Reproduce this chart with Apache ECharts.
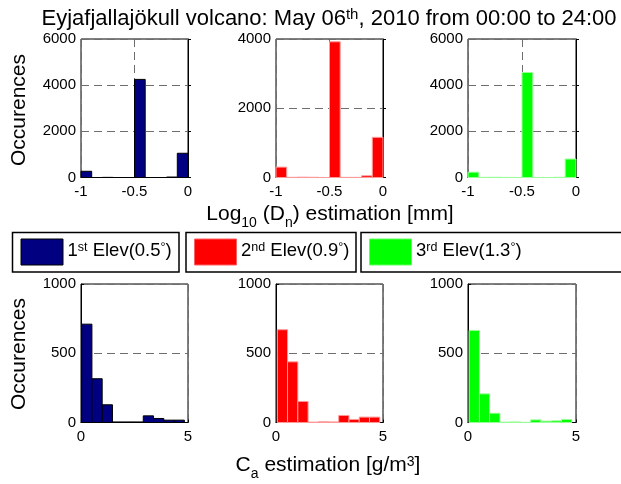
<!DOCTYPE html>
<html>
<head>
<meta charset="utf-8">
<script src="https://cdn.jsdelivr.net/npm/echarts@6/dist/echarts.min.js"></script>
<style>
    html, body { margin: 0; padding: 0; background: #fff; }
    #main { width: 621px; height: 484px; }
</style>
</head>
<body>
<div id="main"></div>
<script type="text/javascript">
// histogram bin edges and counts
var dnEdges = [-1, -0.9, -0.8, -0.7, -0.6, -0.5, -0.4, -0.3, -0.2, -0.1, 0];
var dnElev1 = [270, 0, 6, 0, 0, 4250, 0, 0, 20, 1050];
var dnElev2 = [300, 5, 10, 6, 0, 3920, 4, 3, 50, 1160];
var dnElev3 = [230, 6, 10, 4, 0, 4550, 0, 0, 10, 800];

var caEdges1 = [0.03, 0.51, 0.99, 1.47, 1.95, 2.43, 2.91, 3.39, 3.87, 4.35, 4.83];
var caEdges2 = [0.06, 0.54, 1.02, 1.50, 1.98, 2.46, 2.93, 3.41, 3.89, 4.37, 4.85];
var caEdges3 = [0.05, 0.53, 1.00, 1.48, 1.95, 2.43, 2.90, 3.38, 3.85, 4.33, 4.80];
var caElev1 = [710, 316, 128, 4, 4, 4, 48, 29, 17, 17];
var caElev2 = [670, 438, 152, 3, 5, 4, 51, 22, 39, 39];
var caElev3 = [665, 207, 67, 3, 4, 1, 19, 10, 12, 22];

var dnTicksMax = [6000, 4000, 6000];
var caTicksMax = [1000, 1000, 1000];

var colors = ['#000080', '#ff0000', '#00ff00'];
var edgeColors = ['#000000', '#ff9a9a', '#9aff9a'];
var font = 'Liberation Sans, Arial, Helvetica, sans-serif';

var myChart = echarts.init(document.getElementById('main'), null, {renderer: 'canvas'});

var lefts = [81, 276, 468];
var widths = [107, 107, 108];
var tops = [39, 284];
var plotH = 138.5;

function bins(edges, counts) {
    return counts.map(function (c, i) { return [edges[i], edges[i + 1], c]; });
}

function histItem(params, api) {
    var p0 = api.coord([api.value(0), api.value(2)]);
    var p1 = api.coord([api.value(1), 0]);
    var c = colors[params.seriesIndex % 3];
    return {
        type: 'rect',
        shape: {x: p0[0], y: p0[1], width: p1[0] - p0[0], height: p1[1] - p0[1]},
        style: {fill: c, stroke: edgeColors[params.seriesIndex % 3], lineWidth: 1}
    };
}

function plainNum(v) { return String(v); }

var grids = [], xAxes = [], yAxes = [], series = [];
var dnData = [dnElev1, dnElev2, dnElev3];
var caData = [caElev1, caElev2, caElev3];
var caEdges = [caEdges1, caEdges2, caEdges3];

var splitStyle = {show: true, lineStyle: {color: '#6e6e6e', type: [8, 5], width: 1}};
var labelStyle = {color: '#000', fontSize: 15, fontFamily: font, formatter: plainNum};

for (var row = 0; row < 2; row++) {
    for (var k = 0; k < 3; k++) {
        var idx = row * 3 + k;
        grids.push({left: lefts[k], top: tops[row], width: widths[k], height: plotH,
            show: true, borderColor: '#000', borderWidth: 1, backgroundColor: '#fff'});
        xAxes.push({
            type: 'value', gridIndex: idx,
            min: row == 0 ? -1 : 0, max: row == 0 ? 0 : 5, interval: row == 0 ? 0.5 : 5,
            axisLine: {show: true, lineStyle: {color: '#000'}},
            axisTick: {show: true, inside: true, length: 3, lineStyle: {color: '#000'}},
            axisLabel: Object.assign({margin: 7}, labelStyle),
            splitLine: splitStyle
        });
        yAxes.push({
            type: 'value', gridIndex: idx,
            min: 0, max: row == 0 ? dnTicksMax[k] : caTicksMax[k], interval: row == 0 ? 2000 : 500,
            axisLine: {show: true, lineStyle: {color: '#000'}},
            axisTick: {show: true, inside: true, length: 3, lineStyle: {color: '#000'}},
            axisLabel: Object.assign({margin: 5}, labelStyle),
            splitLine: splitStyle
        });
        series.push({
            type: 'custom', xAxisIndex: idx, yAxisIndex: idx,
            renderItem: histItem,
            encode: {x: [0, 1], y: 2},
            data: row == 0 ? bins(dnEdges, dnData[k]) : bins(caEdges[k], caData[k])
        });
    }
}

var base = {fontSize: 21, fontFamily: font, color: '#000', lineHeight: 24, verticalAlign: 'top'};
var sup = {fontSize: 14, fontFamily: font, color: '#000', lineHeight: 14, verticalAlign: 'top'};
var sub = {fontSize: 14, fontFamily: font, color: '#000', lineHeight: 14, verticalAlign: 'top', padding: [12, 0, 0, 0]};
var tbase = {fontSize: 22, fontFamily: font, color: '#000', lineHeight: 25, verticalAlign: 'top'};
var tsup = {fontSize: 15, fontFamily: font, color: '#000', lineHeight: 14, verticalAlign: 'top'};
var lbase = {fontSize: 18.5, fontFamily: font, color: '#000', lineHeight: 22, verticalAlign: 'top'};
var lsup = {fontSize: 12.5, fontFamily: font, color: '#000', lineHeight: 12, verticalAlign: 'top'};

function legendBox(x, w, color, edge, head, supText, tail) {
    return [
        {type: 'rect', shape: {x: x, y: 232.5, width: w, height: 39.5},
            style: {fill: '#fff', stroke: '#000', lineWidth: 1.5}},
        {type: 'rect', shape: {x: x + 8.5, y: 239, width: 42, height: 26},
            style: {fill: color, stroke: edge, lineWidth: 1}},
        {type: 'text', x: x + 55, y: 252, style: {
            text: '{b|' + head + '}{s|' + supText + '}{b| ' + tail + '}{s|°}{b|)}',
            rich: {b: lbase, s: lsup}, textAlign: 'left', textVerticalAlign: 'middle'}}
    ];
}

var graphics = [
    {type: 'text', x: 329, y: 20, style: {
        text: '{b|Eyjafjallajökull volcano: May 06}{s|th}{b|, 2010 from 00:00 to 24:00}',
        rich: {b: tbase, s: tsup}, textAlign: 'center', textVerticalAlign: 'middle'}},
    {type: 'text', x: 19, y: 110, rotation: Math.PI / 2, style: {
        text: 'Occurences', font: '21px ' + font, fill: '#000', textAlign: 'center', textVerticalAlign: 'middle'}},
    {type: 'text', x: 19, y: 354, rotation: Math.PI / 2, style: {
        text: 'Occurences', font: '21px ' + font, fill: '#000', textAlign: 'center', textVerticalAlign: 'middle'}},
    {type: 'text', x: 330, y: 216, style: {
        text: '{b|Log}{d|10}{b| (D}{d|n}{b|) estimation [mm]}',
        rich: {b: base, d: sub}, textAlign: 'center', textVerticalAlign: 'middle'}},
    {type: 'text', x: 328, y: 467, style: {
        text: '{b|C}{d|a}{b| estimation [g/m}{s|3}{b|]}',
        rich: {b: base, d: sub, s: sup}, textAlign: 'center', textVerticalAlign: 'middle'}}
];
graphics = graphics.concat(legendBox(12.5, 166.5, colors[0], edgeColors[0], '1', 'st', 'Elev(0.5'));
graphics = graphics.concat(legendBox(186, 170, colors[1], '#ff6060', '2', 'nd', 'Elev(0.9'));
graphics = graphics.concat(legendBox(361, 270, colors[2], '#60ff60', '3', 'rd', 'Elev(1.3'));

var option = {
    animation: false,
    backgroundColor: '#fff',
    grid: grids,
    xAxis: xAxes,
    yAxis: yAxes,
    series: series,
    graphic: graphics
};
myChart.setOption(option);
</script>
</body>
</html>
